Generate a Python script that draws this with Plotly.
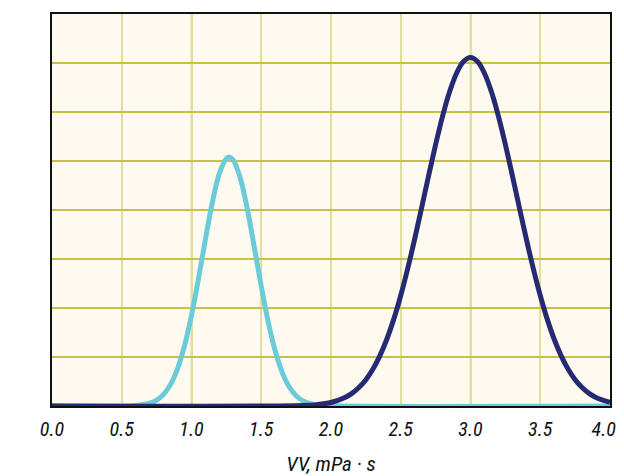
import plotly.graph_objects as go

# Light blue distribution
cyan_x = [0.0, 0.5, 0.6, 0.7, 0.75, 0.8, 0.85, 0.9, 0.95, 1.0, 1.05, 1.1, 1.15, 1.2, 1.25, 1.27,
          1.3, 1.35, 1.4, 1.45, 1.5, 1.55, 1.6, 1.65, 1.7, 1.75, 1.8, 1.85, 1.9, 2.0, 4.0]
cyan_y = [0.0, 0.001, 0.010, 0.056, 0.120, 0.238, 0.441, 0.763, 1.230, 1.851, 2.598, 3.405, 4.161, 4.747, 5.052, 5.08,
          5.017, 4.649, 4.020, 3.243, 2.442, 1.715, 1.124, 0.687, 0.392, 0.209, 0.104, 0.048, 0.021, 0.003, 0.0]

# Dark blue distribution
navy_x = [0.0, 1.8, 1.9, 2.0, 2.1, 2.15, 2.2, 2.25, 2.3, 2.35, 2.4, 2.45, 2.5, 2.55, 2.6, 2.65, 2.7, 2.75,
          2.8, 2.85, 2.9, 2.95, 3.0, 3.05, 3.1, 3.15, 3.2, 3.25, 3.3, 3.35, 3.4, 3.45, 3.5, 3.55,
          3.6, 3.65, 3.7, 3.75, 3.8, 3.85, 3.9, 4.0]
navy_y = [0.0, 0.010, 0.028, 0.072, 0.173, 0.258, 0.377, 0.537, 0.749, 1.022, 1.362, 1.773, 2.256, 2.806, 3.411, 4.051, 4.703, 5.336,
          5.917, 6.412, 6.791, 7.029, 7.11, 7.029, 6.791, 6.412, 5.917, 5.336, 4.703, 4.051, 3.411, 2.806, 2.256, 1.773,
          1.362, 1.022, 0.749, 0.537, 0.377, 0.258, 0.173, 0.072]

tick_vals = [0.0, 0.5, 1.0, 1.5, 2.0, 2.5, 3.0, 3.5, 4.0]
tick_text = ["0.0", "0.5", "1.0", "1.5", "2.0", "2.5", "3.0", "3.5", "4.0\u2002\u2009"]
major_vals = [1.0, 2.0, 3.0]

FONT = "Roboto Condensed, Liberation Sans, sans-serif"

fig = go.Figure()
fig.add_trace(go.Scatter(x=cyan_x, y=cyan_y, mode="lines",
                         line=dict(color="#6ccbd9", width=5, shape="spline", smoothing=1),
                         showlegend=False, hoverinfo="skip"))
fig.add_trace(go.Scatter(x=navy_x, y=navy_y, mode="lines",
                         line=dict(color="#262a72", width=5, shape="spline", smoothing=1),
                         showlegend=False, hoverinfo="skip"))

# darker vertical gridlines at integer positions (below traces)
for v in major_vals:
    fig.add_shape(type="line", xref="x", yref="paper", x0=v, x1=v, y0=0, y1=1,
                  line=dict(color="#cbc44c", width=1.5), layer="below")

fig.update_layout(
    width=624, height=468,
    margin=dict(l=44, r=22, t=6, b=70, autoexpand=False),
    paper_bgcolor="white",
    plot_bgcolor="#fefaf0",
    xaxis=dict(range=[0, 4], tickvals=tick_vals, ticktext=tick_text, automargin=False,
               ticklabeloverflow="allow",
               showgrid=True, gridcolor="#e3de9e", gridwidth=2,
               zeroline=False, showline=True, linecolor="#111", linewidth=2, mirror=True,
               ticks="outside", ticklen=4, tickcolor="rgba(0,0,0,0)",
               tickfont=dict(family=FONT, size=20, color="#111", style="italic"),
               title=dict(text="VV, mPa · s", standoff=17,
                          font=dict(family=FONT, size=21, color="#111", style="italic"))),
    yaxis=dict(range=[0, 8], dtick=1, showticklabels=False, showgrid=True, automargin=False,
               gridcolor="#c9c146", gridwidth=1.5, zeroline=False,
               showline=True, linecolor="#111", linewidth=2, mirror=True, ticks=""),
)

fig.write_html("out.html")
